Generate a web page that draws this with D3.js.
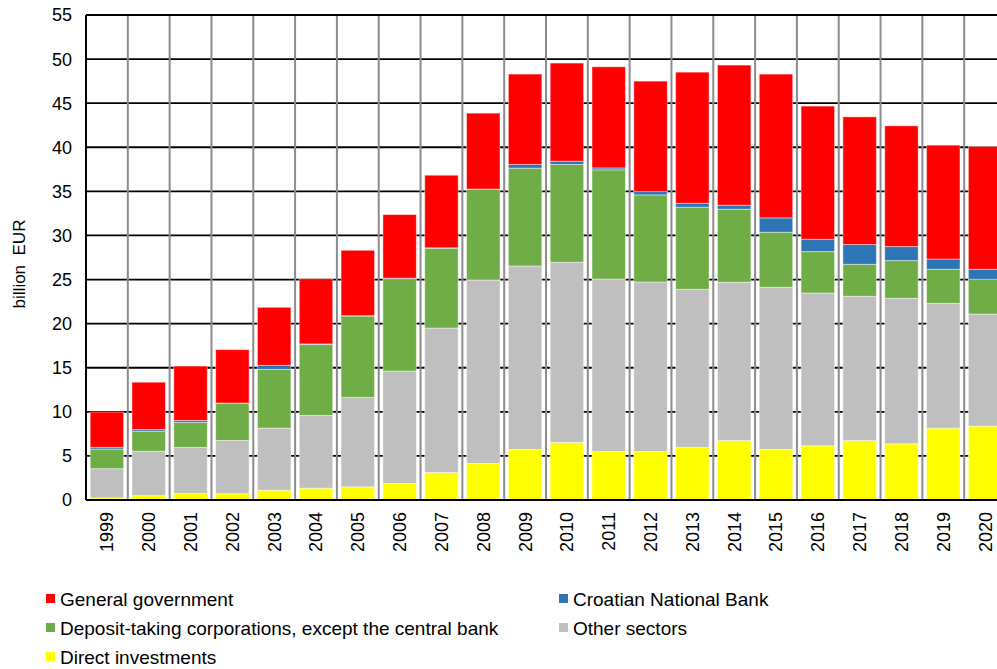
<!DOCTYPE html>
<html>
<head>
<meta charset="utf-8">
<script src="https://cdn.jsdelivr.net/npm/d3@7"></script>
<style>
  body { margin: 0; background: white; }
  #visualisationDiv { width: 997px; height: 669px; overflow: hidden; }
  text { font-family: "Liberation Sans", Arial, sans-serif; fill: #000; }
</style>
</head>
<body>
<div id="visualisationDiv"></div>
<script>
var years = ["1999","2000","2001","2002","2003","2004","2005","2006","2007","2008","2009",
             "2010","2011","2012","2013","2014","2015","2016","2017","2018","2019","2020"];

var directInvestments = [0.25,0.5,0.74,0.72,1.11,1.34,1.5,1.87,3.12,4.14,5.73,
                         6.53,5.5,5.5,5.96,6.75,5.73,6.15,6.75,6.38,8.15,8.38];
var otherSectors = [3.3,5.03,5.22,6.03,7.04,8.25,10.13,12.75,16.38,20.81,20.81,
                    20.43,19.56,19.22,17.93,17.94,18.39,17.32,16.35,16.49,14.15,12.71];
var depositTaking = [2.23,2.28,2.84,4.2,6.66,8.06,9.23,10.48,9.05,10.26,11.09,
                     11.09,12.38,9.88,9.31,8.28,6.24,4.7,3.63,4.28,3.86,3.94];
var croatianNB = [0.2,0.18,0.22,0.05,0.46,0.05,0.05,0.05,0.05,0.05,0.42,
                  0.37,0.22,0.38,0.45,0.46,1.63,1.4,2.24,1.59,1.17,1.13];
var generalGov = [4.0,5.37,6.17,6.05,6.58,7.4,7.41,7.22,8.23,8.61,10.25,
                  11.13,11.47,12.52,14.87,15.89,16.31,15.1,14.48,13.69,12.91,13.93];

var yTicks = [0,5,10,15,20,25,30,35,40,45,50,55];

var seriesNames = ["Direct investments","Other sectors","Deposit-taking corporations, except the central bank",
                   "Croatian National Bank","General government"];
var seriesColours = ["#ffff00","#bfbfbf","#70ad47","#2e75b6","#ff0000"];

function makeVisualisation() {
  var width = 997, height = 669;
  var left = 86, right = 1006, top = 15, bottom = 500;

  var svg = d3.select("#visualisationDiv").append("svg")
    .attr("width", width)
    .attr("height", height);

  svg.append("rect").attr("width", width).attr("height", height).attr("fill", "white");

  var table = years.map(function(y, i) {
    return {
      year: y,
      "Direct investments": directInvestments[i],
      "Other sectors": otherSectors[i],
      "Deposit-taking corporations, except the central bank": depositTaking[i],
      "Croatian National Bank": croatianNB[i],
      "General government": generalGov[i]
    };
  });

  var stacked = d3.stack().keys(seriesNames)(table);

  var x = d3.scaleBand()
    .domain(years)
    .range([left, right])
    .paddingInner(0.2)
    .paddingOuter(0.1);

  var y = d3.scaleLinear()
    .domain([0, 55])
    .range([bottom, top]);

  // horizontal grid lines
  svg.append("g")
    .selectAll("line")
    .data(yTicks)
    .enter()
    .append("line")
      .attr("x1", left).attr("x2", width)
      .attr("y1", function(d) { return y(d); })
      .attr("y2", function(d) { return y(d); })
      .attr("stroke", "#000")
      .attr("stroke-width", 1.8);

  // vertical grid lines between categories
  var step = x.step();
  var bounds = years.slice(1).map(function(d) { return x(d) - x.paddingInner() * step / 2; });
  svg.append("g")
    .selectAll("line")
    .data(bounds)
    .enter()
    .append("line")
      .attr("x1", function(d) { return d; })
      .attr("x2", function(d) { return d; })
      .attr("y1", top).attr("y2", bottom)
      .attr("stroke", "#8c8c8c")
      .attr("stroke-width", 2);

  // bars
  svg.append("g")
    .selectAll("g")
    .data(stacked)
    .enter()
    .append("g")
      .attr("fill", function(d, i) { return seriesColours[i]; })
    .selectAll("rect")
    .data(function(d) { return d; })
    .enter()
    .append("rect")
      .attr("x", function(d) { return x(d.data.year); })
      .attr("width", x.bandwidth())
      .attr("y", function(d) { return y(d[1]); })
      .attr("height", function(d) { return y(d[0]) - y(d[1]); })
      .attr("stroke", "rgba(255,255,255,0.45)")
      .attr("stroke-width", 1);

  // axes frame
  svg.append("line")
    .attr("x1", left).attr("x2", left).attr("y1", top).attr("y2", bottom)
    .attr("stroke", "#000").attr("stroke-width", 2);
  svg.append("line")
    .attr("x1", left).attr("x2", width).attr("y1", bottom).attr("y2", bottom)
    .attr("stroke", "#000").attr("stroke-width", 2);
  svg.append("line")
    .attr("x1", left).attr("x2", width).attr("y1", top).attr("y2", top)
    .attr("stroke", "#000").attr("stroke-width", 2);

  // y tick labels
  svg.append("g")
    .selectAll("text")
    .data(yTicks)
    .enter()
    .append("text")
      .attr("x", 72)
      .attr("y", function(d) { return y(d); })
      .attr("dy", "0.36em")
      .attr("text-anchor", "end")
      .style("font-size", "18px")
      .text(function(d) { return d; });

  // x tick labels, rotated
  svg.append("g")
    .selectAll("text")
    .data(years)
    .enter()
    .append("text")
      .attr("transform", function(d) {
        return "translate(" + (x(d) + x.bandwidth() / 2) + "," + (bottom + 12) + ") rotate(-90)";
      })
      .attr("dy", "0.36em")
      .attr("text-anchor", "end")
      .style("font-size", "18px")
      .text(function(d) { return d; });

  // y axis title
  svg.append("text")
    .attr("transform", "translate(19," + 264 + ") rotate(-90)")
    .attr("dy", "0.36em")
    .attr("text-anchor", "middle")
    .style("font-size", "17px")
    .style("white-space", "pre")
    .text("billion  EUR");

  // legend
  var legendItems = [
    { name: "General government", colour: seriesColours[4], x: 46, y: 599 },
    { name: "Croatian National Bank", colour: seriesColours[3], x: 559, y: 599 },
    { name: "Deposit-taking corporations, except the central bank", colour: seriesColours[2], x: 46, y: 628 },
    { name: "Other sectors", colour: seriesColours[1], x: 559, y: 628 },
    { name: "Direct investments", colour: seriesColours[0], x: 46, y: 657 }
  ];

  var legend = svg.append("g")
    .selectAll("g")
    .data(legendItems)
    .enter()
    .append("g")
      .attr("transform", function(d) { return "translate(" + d.x + "," + d.y + ")"; });

  legend.append("rect")
    .attr("x", 0).attr("y", -5)
    .attr("width", 9).attr("height", 9)
    .attr("fill", function(d) { return d.colour; });

  legend.append("text")
    .attr("x", 14)
    .attr("dy", "0.36em")
    .style("font-size", "19px")
    .text(function(d) { return d.name; });
}

makeVisualisation();
</script>
</body>
</html>
